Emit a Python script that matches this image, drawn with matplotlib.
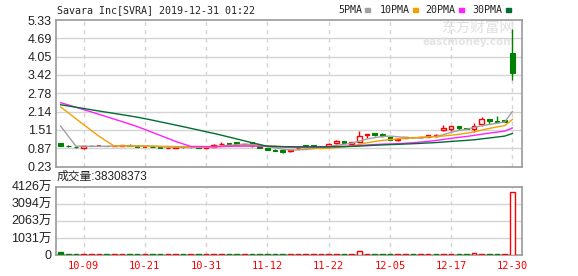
import matplotlib
matplotlib.use('Agg')
import matplotlib.pyplot as plt
from matplotlib.patches import Rectangle
import numpy as np

# ---- data ----
title = 'Savara Inc[SVRA] 2019-12-31 01:22'
vol_label = '成交量:38308373'

# closes before the first visible day (only used so the moving averages start right)
prior_close = [2.20, 2.25, 2.18, 2.30, 2.22, 2.28, 2.19, 2.26, 2.24, 2.28,
               2.45, 2.52, 2.58, 2.55, 2.62, 2.60, 2.66, 2.63, 2.70, 2.69,
               2.92, 3.00, 2.95, 2.98, 2.95, 2.70, 2.65, 0.92, 0.98]

opens = [1.04, 0.96, 0.91, 0.86, 0.96, 0.95, 0.95, 0.94, 0.96, 0.99,
         0.93, 0.92, 0.92, 0.90, 0.88, 0.89, 0.91, 0.90, 0.90, 0.89,
         0.905, 1.00, 1.06, 1.07, 1.00, 1.09, 0.93, 0.87, 0.82, 0.79,
         0.76, 0.87, 0.985, 0.985, 0.94, 0.96, 1.045, 1.125, 1.02, 1.09,
         1.335, 1.405, 1.37, 1.24, 1.17, 1.22, 1.25, 1.24, 1.255, 1.30,
         1.49, 1.545, 1.63, 1.57, 1.535, 1.72, 1.895, 1.80, 1.835, 4.17]
highs = [1.05, 0.98, 0.92, 0.93, 0.97, 0.96, 0.96, 0.97, 0.98, 1.00,
         0.94, 0.93, 0.93, 0.91, 0.90, 0.93, 0.92, 0.91, 0.91, 0.92,
         1.00, 1.10, 1.06, 1.08, 1.03, 1.10, 0.94, 0.88, 0.83, 0.80,
         0.81, 0.92, 0.99, 0.99, 0.96, 1.05, 1.15, 1.13, 1.10, 1.475,
         1.37, 1.41, 1.38, 1.25, 1.22, 1.26, 1.25, 1.26, 1.34, 1.37,
         1.685, 1.63, 1.63, 1.575, 1.745, 1.955, 1.90, 1.975, 1.84, 5.00]
lows = [0.94, 0.92, 0.87, 0.85, 0.94, 0.94, 0.93, 0.93, 0.95, 0.95,
        0.91, 0.91, 0.90, 0.87, 0.87, 0.88, 0.89, 0.89, 0.88, 0.88,
        0.90, 0.99, 0.95, 0.98, 0.99, 0.92, 0.87, 0.81, 0.77, 0.71,
        0.75, 0.84, 0.90, 0.90, 0.89, 0.95, 1.03, 1.06, 0.95, 1.08,
        1.23, 1.275, 1.26, 1.16, 1.13, 1.21, 1.23, 1.23, 1.25, 1.26,
        1.48, 1.45, 1.49, 1.53, 1.43, 1.63, 1.72, 1.78, 1.77, 3.24]
closes = [0.95, 0.94, 0.90, 0.93, 0.95, 0.95, 0.94, 0.96, 0.97, 0.96,
          0.92, 0.92, 0.91, 0.88, 0.89, 0.91, 0.90, 0.90, 0.89, 0.91,
          0.985, 1.03, 1.02, 0.99, 1.02, 0.93, 0.88, 0.82, 0.78, 0.75,
          0.80, 0.88, 0.905, 0.905, 0.905, 1.02, 1.115, 1.065, 1.09, 1.30,
          1.37, 1.335, 1.275, 1.17, 1.18, 1.255, 1.24, 1.25, 1.335, 1.31,
          1.57, 1.63, 1.57, 1.535, 1.65, 1.885, 1.825, 1.78, 1.78, 3.47]
volumes = [1.8e6, 0.5e6, 0.5e6, 0.5e6, 0.5e6, 0.5e6, 0.5e6, 0.5e6, 0.5e6, 0.5e6,
           0.5e6, 0.5e6, 0.5e6, 0.5e6, 0.5e6, 0.5e6, 0.5e6, 0.5e6, 0.5e6, 0.5e6,
           0.5e6, 0.5e6, 0.5e6, 0.5e6, 0.5e6, 0.5e6, 0.5e6, 0.5e6, 0.5e6, 0.5e6,
           0.5e6, 0.5e6, 0.5e6, 0.5e6, 0.5e6, 0.5e6, 0.5e6, 0.5e6, 0.5e6, 2.4e6,
           0.5e6, 0.5e6, 0.5e6, 0.5e6, 0.5e6, 0.5e6, 0.5e6, 0.5e6, 0.5e6, 0.5e6,
           0.5e6, 0.5e6, 0.5e6, 0.5e6, 1.4e6, 0.5e6, 0.5e6, 0.5e6, 0.5e6, 38308373]

date_ticks = [3, 11, 19, 27, 35, 43, 51, 59]
date_labels = ['10-09', '10-21', '10-31', '11-12', '11-22', '12-05', '12-17', '12-30']
price_ticks = [0.23, 0.8675, 1.505, 2.1425, 2.78, 3.4175, 4.055, 4.6925, 5.33]
price_labels = ['0.23', '0.87', '1.51', '2.14', '2.78', '3.42', '4.05', '4.69', '5.33']
vol_ticks = [0, 10.315e6, 20.63e6, 30.945e6, 41.26e6]
vol_labels = ['0', '1031万', '2063万', '3094万', '4126万']

ma_periods = [5, 10, 20, 30]
ma_names = ['5PMA', '10PMA', '20PMA', '30PMA']
ma_colors = ['#a0a0a0', '#f5a000', '#ff20ff', '#006e32']

RED = '#ff0000'
GREEN = '#008000'
GRID = '#d4d4d4'
FRAME = '#999999'

n = len(closes)
x = np.arange(n)
o = np.array(opens)
c = np.array(closes)
h = np.array(highs)
l = np.array(lows)

fig = plt.figure(figsize=(5.78, 2.76), dpi=100)
ax = fig.add_axes([0.0969, 0.3967, 0.8062, 0.5308])
axv = fig.add_axes([0.0969, 0.0761, 0.8062, 0.2475])

for a in (ax, axv):
    a.set_xlim(-0.6, 60.25)
    for s in a.spines.values():
        s.set_color(FRAME)
        s.set_linewidth(1.2)
    for t in date_ticks:
        a.axvline(t, color=GRID, lw=1, ls=(0, (3, 3)), zorder=0)
    a.tick_params(length=0)

# ---- price panel ----
ax.set_ylim(0.23, 5.33)
ax.set_yticks(price_ticks)
ax.set_yticklabels(price_labels, fontsize=9, family='Liberation Sans', color='#222222')
ax.tick_params(axis='y', pad=3)
ax.set_xticks([])
for t in price_ticks[1:-1]:
    ax.axhline(t, color=GRID, lw=1, zorder=0)

up = c >= o
w = 0.6
ax.vlines(x, l, h, colors=[RED if u else GREEN for u in up], lw=1, zorder=2)
body = np.abs(c - o)
bottom = np.minimum(o, c)
flat = body < 0.01
ax.bar(x[up & ~flat], body[up & ~flat], w, bottom=bottom[up & ~flat],
       facecolor='white', edgecolor=RED, lw=1, zorder=3)
ax.bar(x[~up & ~flat], body[~up & ~flat], w, bottom=bottom[~up & ~flat],
       color=GREEN, edgecolor=GREEN, lw=0.8, zorder=3)
ax.hlines(c[flat], x[flat] - w / 2, x[flat] + w / 2,
          colors=[RED if u else GREEN for u in up[flat]], lw=1.2, zorder=3)

all_close = np.array(prior_close + closes)
k = len(prior_close)
for p, col in zip(ma_periods, ma_colors):
    ma = np.array([all_close[k + i - p + 1:k + i + 1].mean() for i in range(n)])
    ax.plot(x, ma, color=col, lw=1, zorder=4)

# watermark
ax.text(0.985, 0.945, '东方财富网', transform=ax.transAxes, ha='right', va='center',
        fontsize=10.5, family='Noto Sans CJK SC', color='#e0e0e0', zorder=1)
ax.text(0.985, 0.85, 'eastmoney.com', transform=ax.transAxes, ha='right', va='center',
        fontsize=7.5, family='DejaVu Sans', weight='bold', color='#e4e4e4', zorder=1)

# ---- volume panel ----
vol = np.array(volumes)
prev = np.concatenate([[prior_close[-1]], c[:-1]])
vup = c >= prev
axv.set_ylim(0, 41.26e6)
axv.set_yticks(vol_ticks)
axv.set_yticklabels(vol_labels, fontsize=9, family=['Liberation Sans', 'Noto Sans CJK SC'],
                    color='#222222')
axv.tick_params(axis='y', pad=3)
for t in vol_ticks[1:-1]:
    axv.axhline(t, color=GRID, lw=1, zorder=0)
axv.bar(x[vup], vol[vup], w, facecolor='white', edgecolor=RED, lw=1, zorder=3)
axv.bar(x[~vup], vol[~vup], w, color=GREEN, edgecolor=GREEN, lw=1, zorder=3)
axv.set_xticks(date_ticks)
axv.set_xticklabels(date_labels, fontsize=7.5, family='DejaVu Sans Mono', color=RED)
axv.tick_params(axis='x', pad=4)

# ---- header texts ----
fig.text(57 / 578, 1 - 10 / 276, title, fontsize=7.2, family='DejaVu Sans Mono',
         ha='left', va='center', color='#222222')
leg_x = [338, 380, 425, 472]
sq_x = [365, 413, 459, 506]
for name, col, tx, sx in zip(ma_names, ma_colors, leg_x, sq_x):
    fig.text(tx / 578, 1 - 10 / 276, name, fontsize=7.2, family='DejaVu Sans Mono',
             ha='left', va='center', color='#222222')
    fig.patches.append(Rectangle((sx / 578, 1 - 11.5 / 276), 5 / 578, 3.5 / 276,
                                 transform=fig.transFigure, color=col))
fig.text(57 / 578, 1 - 177 / 276, vol_label, fontsize=8.5,
         family=['Liberation Sans', 'Noto Sans CJK SC'], ha='left', va='center',
         color='#222222')

fig.savefig('out.png', dpi=100, facecolor='white')
